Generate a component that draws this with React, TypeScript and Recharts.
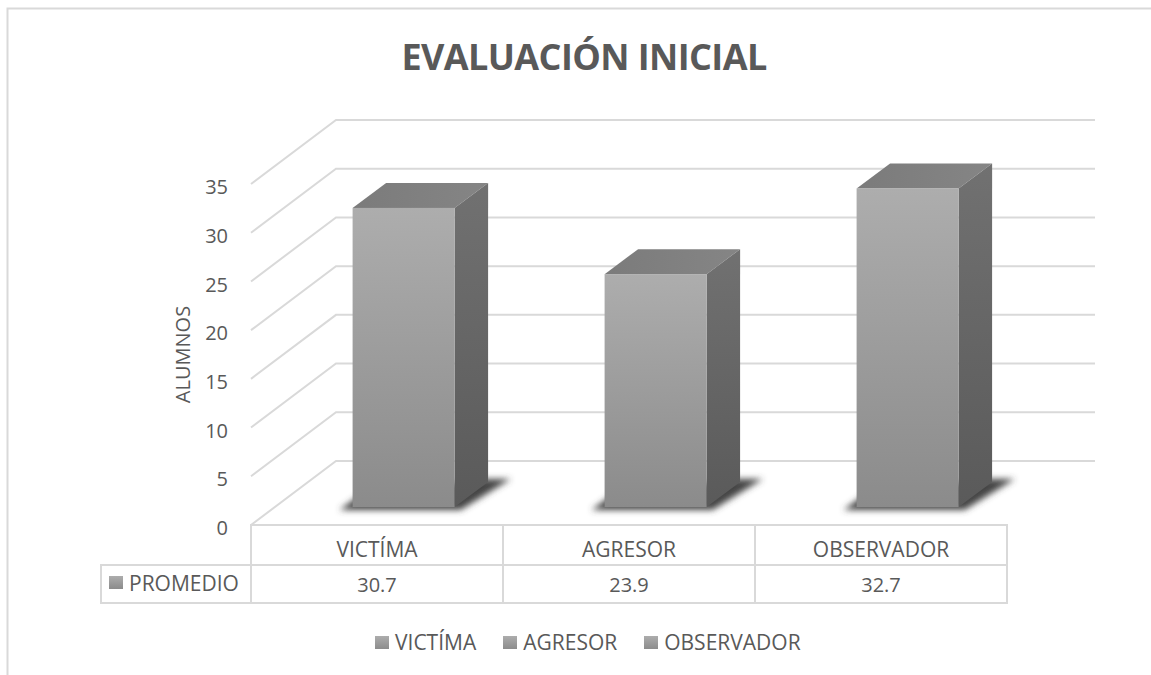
import React from "react";
import { BarChart, Bar, XAxis, YAxis, CartesianGrid, Legend, Cell } from "recharts";

const categories = ["VICTÍMA", "AGRESOR", "OBSERVADOR"];
const values = [30.7, 23.9, 32.7];
const yTicks = [0, 5, 10, 15, 20, 25, 30, 35];
const title = "EVALUACIÓN INICIAL";
const yLabel = "ALUMNOS";
const seriesName = "PROMEDIO";

const data = categories.map((name, i) => ({ name, value: values[i] }));

const W = 1151;
const H = 675;
const PLOT_L = 251;
const PLOT_R = 1007;
const PLOT_T = 184;
const PLOT_B = 525;
const LEGEND_H = 26;
const CELL = (PLOT_R - PLOT_L) / categories.length;
const ROW1 = 565;
const ROW2 = 603;
const WALL_DX = 85;
const WALL_DY = -64;
const WALL_END = 1095;
const BAR_SHIFT_X = 26.5;
const BAR_SHIFT_Y = -18;
const DEPTH_X = 33.5;
const DEPTH_Y = -25;
const FONT = "'Open Sans', sans-serif";
const TEXT = "#595959";
const LINE = "#d9d9d9";
const SW = 2;

const gridLine = (p: any) => {
  const { x1, y1 } = p;
  return (
    <path
      key={p.key ?? `g-${y1}`}
      d={`M${x1},${y1} L${x1 + WALL_DX},${y1 + WALL_DY} L${WALL_END},${y1 + WALL_DY}`}
      fill="none"
      stroke={LINE}
      strokeWidth={SW}
    />
  );
};

const Bar3D = (p: any) => {
  const x = p.x + BAR_SHIFT_X;
  const y = p.y + BAR_SHIFT_Y;
  const w = p.width;
  const h = p.height;
  const b = y + h;
  const r = x + w;
  return (
    <g>
      <path
        d={`M${x - 13},${b + 3} L${r + 6},${b + 3} L${r + 56},${b - 28} L${r + 30},${b - 28} L${x + 6},${b - 11} Z`}
        fill="#444444"
        filter="url(#shadowBlur)"
      />
      <path d={`M${x},${y} L${x + DEPTH_X},${y + DEPTH_Y} L${r + DEPTH_X},${y + DEPTH_Y} L${r},${y} Z`} fill="url(#topFace)" />
      <path d={`M${r},${y} L${r + DEPTH_X},${y + DEPTH_Y} L${r + DEPTH_X},${b + DEPTH_Y} L${r},${b} Z`} fill="url(#sideFace)" />
      <rect x={x} y={y} width={w} height={h} fill="url(#frontFace)" />
    </g>
  );
};

const TableTick = (p: any) => {
  const { x, index, payload } = p;
  const l = x - CELL / 2;
  return (
    <g fontFamily={FONT} fill={TEXT}>
      <rect x={l} y={PLOT_B} width={CELL} height={ROW1 - PLOT_B} fill="none" stroke={LINE} strokeWidth={SW} />
      <rect x={l} y={ROW1} width={CELL} height={ROW2 - ROW1} fill="none" stroke={LINE} strokeWidth={SW} />
      <text x={x} y={557} textAnchor="middle" fontSize={21}>{payload.value}</text>
      <text x={x} y={592} textAnchor="middle" fontSize={20}>{values[index]}</text>
    </g>
  );
};

const LegendContent = () => (
  <div style={{ display: "flex", justifyContent: "flex-start", alignItems: "center", fontFamily: FONT, fontSize: 21, color: TEXT, lineHeight: "26px", marginTop: -1 }}>
    {categories.map((c) => (
      <span key={c} style={{ display: "inline-flex", alignItems: "center", marginRight: 27 }}>
        <span style={{ width: 14, height: 13, marginRight: 6, background: "linear-gradient(#adadad,#8c8c8c)", display: "inline-block" }} />
        {c}
      </span>
    ))}
  </div>
);

export default function App() {
  return (
    <div style={{ position: "absolute", left: 0, top: 0, width: W, height: H, background: "#fff" }}>
      <BarChart
        width={W}
        height={H}
        data={data}
        barCategoryGap="29.8%"
        margin={{ left: 0, right: W - PLOT_R, top: PLOT_T, bottom: 0 }}
      >
        <defs>
          <linearGradient id="frontFace" x1="0" y1="0" x2="0" y2="1">
            <stop offset="0" stopColor="#adadad" />
            <stop offset="1" stopColor="#8b8b8b" />
          </linearGradient>
          <linearGradient id="sideFace" x1="0" y1="0" x2="0" y2="1">
            <stop offset="0" stopColor="#717171" />
            <stop offset="1" stopColor="#5a5a5a" />
          </linearGradient>
          <linearGradient id="topFace" x1="0" y1="0" x2="1" y2="0">
            <stop offset="0" stopColor="#7b7b7b" />
            <stop offset="1" stopColor="#858585" />
          </linearGradient>
          <filter id="shadowBlur" x="-20%" y="-50%" width="140%" height="200%">
            <feGaussianBlur stdDeviation="3" />
          </filter>
        </defs>
        <path d={`M7.5,${H} L7.5,8.5 L${W},8.5`} fill="none" stroke={LINE} strokeWidth={SW} />
        <text x={584} y={70} textAnchor="middle" fontFamily={FONT} fontWeight={700} fontSize={36} letterSpacing={-0.6} fill={TEXT}>
          {title}
        </text>
        <path d={`M101,${ROW1} H${PLOT_L} V${ROW2} H101 Z`} fill="none" stroke={LINE} strokeWidth={SW} />
        <rect x={109} y={576} width={14} height={13} fill="url(#frontFace)" />
        <text x={129} y={591} fontFamily={FONT} fontSize={21} fill={TEXT}>{seriesName}</text>
        <CartesianGrid horizontal={gridLine} vertical={false} />
        <XAxis
          dataKey="name"
          height={H - PLOT_B - LEGEND_H}
          interval={0}
          axisLine={false}
          tickLine={false}
          tick={<TableTick />}
        />
        <YAxis
          width={PLOT_L}
          domain={[0, 35]}
          ticks={yTicks}
          axisLine={false}
          tickLine={false}
          tickMargin={17}
          tick={{ fontFamily: FONT, fontSize: 20, fill: TEXT, dy: 3 }}
          label={{
            value: yLabel,
            angle: -90,
            position: "insideLeft",
            offset: 183,
            style: { fontFamily: FONT, fontSize: 20, fill: TEXT, textAnchor: "middle" },
          }}
        />
        <Legend
          content={<LegendContent />}
          wrapperStyle={{ position: "absolute", left: 375, top: 630, width: 460, height: 26 }}
        />
        <Bar dataKey="value" isAnimationActive={false} shape={Bar3D} fill="#9c9c9c">
          {data.map((d) => (
            <Cell key={d.name} fill="#9c9c9c" />
          ))}
        </Bar>
      </BarChart>
    </div>
  );
}
